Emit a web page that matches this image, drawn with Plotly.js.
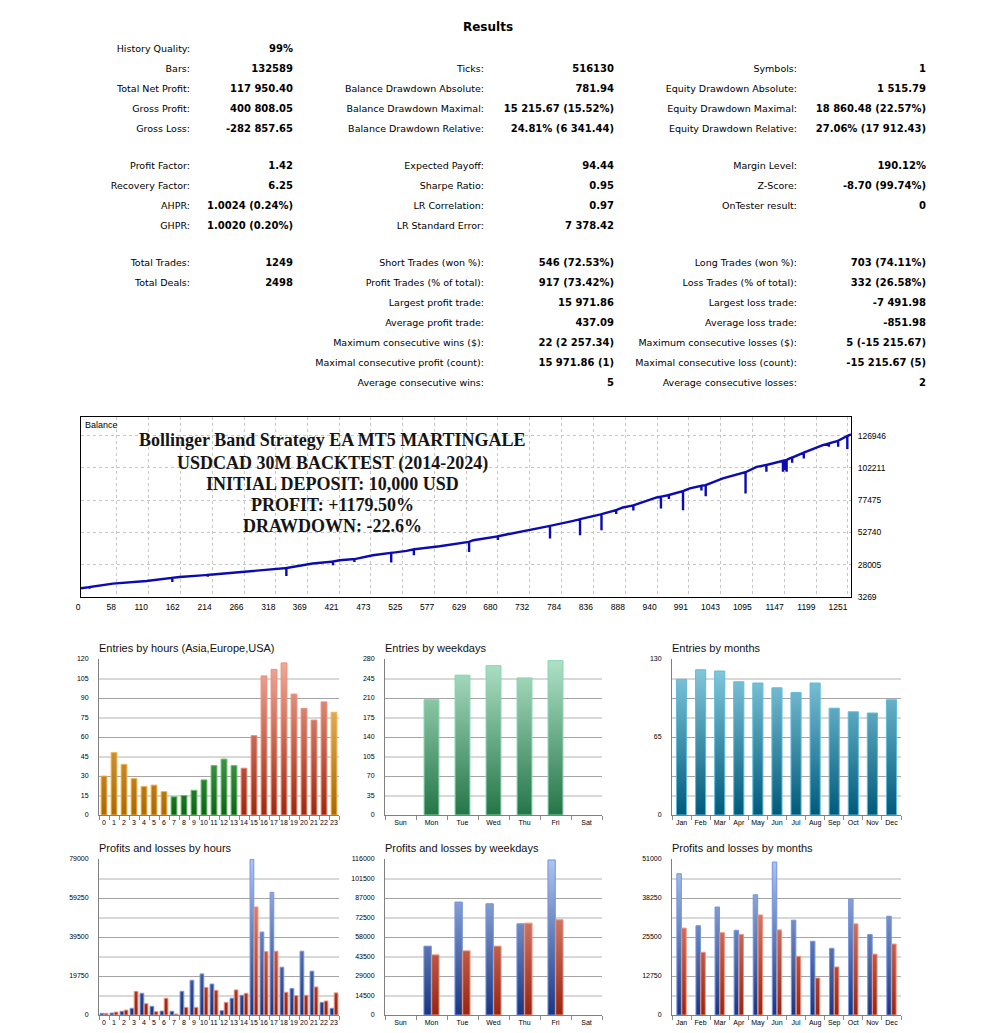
<!DOCTYPE html>
<html><head><meta charset="utf-8">
<script src="https://cdn.plot.ly/plotly-3.0.1.min.js"></script>
<style>
html,body{margin:0;padding:0;background:#fff;width:985px;height:1033px;overflow:hidden;}
#stage{position:relative;width:985px;height:1033px;}
.lbl,.val,.ttl{position:absolute;white-space:nowrap;text-align:right;line-height:14px;height:14px;color:#000;}
.lbl{font-family:"DejaVu Sans",sans-serif;font-size:9.5px;}
.val{font-family:"DejaVu Sans",sans-serif;font-weight:bold;font-size:10px;}
.ttl{font-family:"DejaVu Sans",sans-serif;font-weight:bold;font-size:12px;text-align:center;width:120px;}
.chart{position:absolute;}
</style></head>
<body><div id="stage"></div>
<script>
// ---------------- DATA ----------------
const reportTitle = 'Results';
const col1Labels = ['History Quality:','Bars:','Total Net Profit:','Gross Profit:','Gross Loss:','Profit Factor:','Recovery Factor:','AHPR:','GHPR:','Total Trades:','Total Deals:',null,null,null,null,null];
const col1Values = ['99%','132589','117 950.40','400 808.05','-282 857.65','1.42','6.25','1.0024 (0.24%)','1.0020 (0.20%)','1249','2498',null,null,null,null,null];
const col2Labels = [null,'Ticks:','Balance Drawdown Absolute:','Balance Drawdown Maximal:','Balance Drawdown Relative:','Expected Payoff:','Sharpe Ratio:','LR Correlation:','LR Standard Error:','Short Trades (won %):','Profit Trades (% of total):','Largest profit trade:','Average profit trade:','Maximum consecutive wins ($):','Maximal consecutive profit (count):','Average consecutive wins:'];
const col2Values = [null,'516130','781.94','15 215.67 (15.52%)','24.81% (6 341.44)','94.44','0.95','0.97','7 378.42','546 (72.53%)','917 (73.42%)','15 971.86','437.09','22 (2 257.34)','15 971.86 (1)','5'];
const col3Labels = [null,'Symbols:','Equity Drawdown Absolute:','Equity Drawdown Maximal:','Equity Drawdown Relative:','Margin Level:','Z-Score:','OnTester result:',null,'Long Trades (won %):','Loss Trades (% of total):','Largest loss trade:','Average loss trade:','Maximum consecutive losses ($):','Maximal consecutive loss (count):','Average consecutive losses:'];
const col3Values = [null,'1','1 515.79','18 860.48 (22.57%)','27.06% (17 912.43)','190.12%','-8.70 (99.74%)','0',null,'703 (74.11%)','332 (26.58%)','-7 491.98','-851.98','5 (-15 215.67)','-15 215.67 (5)','2'];

const balanceTrades = [0, 14,14,14, 52, 107, 149,149,149, 161, 207,207,207, 215, 270, 324, 335,335,335, 378, 411,411,411, 422, 446,446,446, 476, 506,506,506, 531, 543,543,543, 585, 633,633,633, 640, 680,680,680, 694, 748, 765,765,765, 803, 814,814,814, 830, 843, 849,849,849, 873,873,873, 884, 901,901,901, 939, 946,946,946, 959,959,959, 982,982,982, 993, 1012,1012,1012, 1019,1019,1019, 1047, 1084,1084,1084, 1102, 1118,1118,1118, 1145,1145,1145, 1148,1148,1148, 1151,1151,1151, 1156, 1160,1160,1160, 1179,1179,1179, 1210, 1220,1220,1220, 1235,1235,1235, 1250,1250,1250, 1256];
const balanceValues = [10000, 10900,9600,10900, 13560, 15560, 17900,14790,17900, 18630, 20200,18800,20200, 20470, 23000, 25080, 25540,19400,25540, 28920, 30450,27600,30450, 31450, 32300,30150,32300, 35300, 37060,29700,37060, 38600, 39900,35300,39900, 42200, 45500,37830,45500, 46800, 49800,47000,49800, 51190, 55800, 57800,48100,57800, 61640, 62950,50650,62950, 64700, 66020, 66800,54490,66800, 69900,67000,69900, 71930, 73500,69600,73500, 79600, 80200,71160,80200, 81500,78400,81500, 84450,69860,84450, 86520, 88500,85000,88500, 89100,80600,89100, 94200, 99000,82680,99000, 103100, 104500,99270,104500, 107700,99270,107700, 108000,100500,108000, 108300,99300,108300, 109500, 110200,106200,110200, 114000,109560,114000, 119770, 121000,118500,121000, 123080,118470,123080, 126700,116700,126700, 127950];
const balanceYTicks = [3269, 28005, 52740, 77475, 102211, 126946];
const balanceXTicks = [0,58,110,162,214,266,318,369,421,473,525,577,629,680,732,784,836,888,940,991,1043,1095,1147,1199,1251];
const overlayLines = ['Bollinger Band Strategy EA MT5 MARTINGALE','USDCAD 30M BACKTEST (2014-2024)','INITIAL DEPOSIT: 10,000 USD','PROFIT: +1179.50%','DRAWDOWN: -22.6%'];

const hours = ['0','1','2','3','4','5','6','7','8','9','10','11','12','13','14','15','16','17','18','19','20','21','22','23'];
const hourSession = ['Asia','Asia','Asia','Asia','Asia','Asia','Asia','Europe','Europe','Europe','Europe','Europe','Europe','Europe','USA','USA','USA','USA','USA','USA','USA','USA','USA','Asia'];
const hourEntries = [30,48,39,28,22,23,18,14,15,19,27,38,43,38,36,61,107,112,117,93,82,73,87,79];
const weekdays = ['Sun','Mon','Tue','Wed','Thu','Fri','Sat'];
const weekdayEntries = [null,207,251,268,246,277,null];
const months = ['Jan','Feb','Mar','Apr','May','Jun','Jul','Aug','Sep','Oct','Nov','Dec'];
const monthEntries = [113,121,120,111,110,106,102,110,89,86,85,96];
const hourProfits = [850,1000,1900,3400,11000,4400,2000,1900,12000,17600,20800,15700,2200,8500,10000,78800,42000,62100,24200,13400,32300,22200,6400,3400];
const hourLosses = [850,1500,2500,12000,5750,1700,8500,500,3900,3900,14000,12500,6400,12700,11000,54700,32100,32300,11500,9800,10000,14200,7100,11200];
const weekdayProfits = [null,51200,84000,82700,67800,115300,null];
const weekdayLosses = [null,44700,47700,51200,68300,70800,null];
const monthProfits = [46200,29200,35300,27700,39300,50000,31000,24100,21800,37900,26300,32300];
const monthLosses = [28400,20500,26900,26300,32700,27800,19200,12100,15700,29800,19900,23200];

// ---------------- STYLES / LAYOUT ----------------
const statRowY = [49,69,89,109,129,166,186,206,226,263,283,303,323,343,363,383];
const statCols = [{lab:col1Labels,val:col1Values,labR:190,valR:293},{lab:col2Labels,val:col2Values,labR:484,valR:614},{lab:col3Labels,val:col3Values,labR:797,valR:926}];
const SANS = 'Liberation Sans, Arial, sans-serif';
const gradStyles = {
  Asia:{top:'#f8cc80',bottom:'#ad6800',line:'#f2b550'},
  Europe:{top:'#a4e2a4',bottom:'#0c6418',line:'#62bf62'},
  USA:{top:'#f2ac9c',bottom:'#9e2810',line:'#ea8c78'},
  week:{top:'#b0e2c8',bottom:'#257548',line:'#84d4ac'},
  month:{top:'#8ccfe2',bottom:'#005a7a',line:'#5cbcdc'},
  profit:{top:'#aec6f2',bottom:'#1a3580',line:'#7595e0'},
  loss:{top:'#f2a898',bottom:'#982410',line:'#ee9480'}
};

const stage = document.getElementById('stage');
// Stats text
(function(){
  const t = document.createElement('div'); t.className='ttl'; t.textContent=reportTitle;
  t.style.left=(488-60)+'px'; t.style.top=(27-7)+'px'; stage.appendChild(t);
  statCols.forEach(c=>{
    statRowY.forEach((y,i)=>{
      if(c.lab[i]){const d=document.createElement('div');d.className='lbl';d.textContent=c.lab[i];d.style.right=(985-c.labR)+'px';d.style.top=(y-7)+'px';stage.appendChild(d);}
      if(c.val[i]){const d=document.createElement('div');d.className='val';d.textContent=c.val[i];d.style.right=(985-c.valR)+'px';d.style.top=(y-7)+'px';stage.appendChild(d);}
    });
  });
})();

function makeDiv(id, box){
  const d=document.createElement('div'); d.id=id; d.className='chart';
  d.style.left=box.left+'px'; d.style.top=box.top+'px'; d.style.width=box.w+'px'; d.style.height=box.h+'px';
  stage.appendChild(d); return d;
}
const cfg = {staticPlot:true, displayModeBar:false};

// Balance chart
(function(){
  const box={left:0,top:405,w:985,h:215,l:81,r:134,t:12,b:23};
  const d=makeDiv('balance',box);
  const plotW = box.w-box.l-box.r, plotH = box.h-box.t-box.b;
  const lineY = [440,463,484,505,526];
  const anns = overlayLines.map((s,i)=>({text:'<b>'+s+'</b>', xref:'paper', yref:'paper', x:(332.5-81)/plotW, y:(box.h-box.b - (lineY[i]-box.top))/plotH, xanchor:'center', yanchor:'middle', showarrow:false, font:{family:'Liberation Serif, Times New Roman, serif', size:18, color:'#151515'}}));
  anns.push({text:'Balance', xref:'paper', yref:'paper', x:0, y:1, xanchor:'left', yanchor:'top', xshift:2, yshift:-1, showarrow:false, font:{family:SANS, size:9, color:'#000'}});
  Plotly.newPlot(d,[{type:'scatter', mode:'lines', x:balanceTrades, y:balanceValues, line:{color:'#0b0bb2', width:2.4}, hoverinfo:'skip'}],{
    width:box.w, height:box.h, margin:{l:box.l,r:box.r,t:box.t,b:box.b},
    paper_bgcolor:'rgba(0,0,0,0)', plot_bgcolor:'#fff', showlegend:false,
    xaxis:{range:[0,1256], tickmode:'array', tickvals:balanceXTicks, ticktext:balanceXTicks.map(String), ticklabelposition:'outside left', showgrid:true, gridcolor:'#c6c6c6', griddash:'3px,3px', gridwidth:1, showline:true, mirror:true, linecolor:'#000', linewidth:1, ticks:'', zeroline:false, tickangle:0, tickfont:{family:SANS,size:8.5,color:'#000'}, ticklabelstandoff:2},
    yaxis:{range:[3269,141300], side:'right', tickmode:'array', tickvals:balanceYTicks, ticktext:balanceYTicks.map(String), showgrid:true, gridcolor:'#c6c6c6', griddash:'3px,3px', gridwidth:1, showline:true, mirror:true, linecolor:'#000', linewidth:1, ticks:'', zeroline:false, tickfont:{family:SANS,size:8.5,color:'#000'}, ticklabelstandoff:4},
    annotations:anns
  },cfg);
})();

function applyGradients(gd, keyFor){
  const h = gd._fullLayout.yaxis._length;
  const defs = gd.querySelector('defs');
  const NS='http://www.w3.org/2000/svg';
  const made={};
  function gid(key){
    const id=gd.id+'-g-'+key;
    if(!made[key]){
      const st=gradStyles[key];
      const lg=document.createElementNS(NS,'linearGradient');
      lg.setAttribute('id',id); lg.setAttribute('gradientUnits','userSpaceOnUse');
      lg.setAttribute('x1','0'); lg.setAttribute('y1','0'); lg.setAttribute('x2','0'); lg.setAttribute('y2',String(h));
      [[0,st.top],[1,st.bottom]].forEach(([o,c])=>{const s=document.createElementNS(NS,'stop');s.setAttribute('offset',String(o));s.setAttribute('stop-color',c);lg.appendChild(s);});
      defs.appendChild(lg); made[key]=true;
    }
    return id;
  }
  gd.querySelectorAll('.barlayer .trace.bars').forEach((tr,ti)=>{
    const tIdx = (tr.__data__ && tr.__data__[0] && tr.__data__[0].trace) ? tr.__data__[0].trace.index : ti;
    tr.querySelectorAll('.point').forEach((pt,pi)=>{
      const idx = (pt.__data__ && pt.__data__.i!=null) ? pt.__data__.i : pi;
      const p = pt.querySelector('path'); if(!p) return;
      p.style.fill='url(#'+gid(keyFor(tIdx,idx))+')';
    });
  });
}

function smallChart(id, box, title, cats, series, yMax, labelStep, gridStep, bargap, groupgap, keyFor){
  const d=makeDiv(id,box);
  const n = Math.round(yMax/gridStep);
  const light=[], dark=[];
  for(let k=1;k<=n;k++){ ((n-k)%2===0 ? dark : light).push(k*gridStep); }
  const traces = series.map((s,i)=>({type:'bar', x:cats, y:s.values, marker:{color:s.colors.map(k=>gradStyles[k].bottom), line:{color:s.colors.map(k=>gradStyles[k].line), width:1}}, hoverinfo:'skip'}));
  traces.push({type:'scatter', x:[], y:[], yaxis:'y2', hoverinfo:'skip'});
  traces.push({type:'scatter', x:[], y:[], yaxis:'y3', hoverinfo:'skip'});
  const ov = {overlaying:'y', range:[0,yMax], tickmode:'array', showticklabels:false, showline:false, zeroline:false, ticks:'', showgrid:true};
  Plotly.newPlot(d,traces,{
    width:box.w, height:box.h, margin:{l:box.l,r:box.r,t:box.t,b:box.b},
    paper_bgcolor:'rgba(0,0,0,0)', plot_bgcolor:'rgba(0,0,0,0)', showlegend:false,
    barmode:'group', bargap:bargap, bargroupgap:groupgap,
    xaxis:{type:'category', categoryorder:'array', categoryarray:cats, showline:true, linecolor:'#808080', linewidth:1, ticks:'outside', tickson:'boundaries', ticklen:4, tickcolor:'#8a8a8a', showgrid:false, zeroline:false, tickangle:0, tickfont:{family:SANS,size:7,color:'#000'}, ticklabelstandoff:1},
    yaxis:{range:[0,yMax], tickmode:'linear', tick0:0, dtick:labelStep, tickformat:'d', exponentformat:'none', separatethousands:false, showgrid:false, showline:true, linecolor:'#808080', linewidth:1, ticks:'', zeroline:false, tickfont:{family:SANS,size:7,color:'#000'}, ticklabelstandoff:8},
    yaxis2:Object.assign({}, ov, {tickvals:light, gridcolor:'#d8d8d8', gridwidth:2}),
    yaxis3:Object.assign({}, ov, {tickvals:dark, gridcolor:'#a4a4a4', gridwidth:1}),
    annotations:[{text:title, xref:'paper', yref:'paper', x:0, y:1, xanchor:'left', yanchor:'middle', xshift:-2, yshift:11, showarrow:false, font:{family:SANS, size:11, color:'#111'}}]
  },cfg).then(gd=>applyGradients(gd,keyFor));
}

const rowTop = {top:630,h:205,t:29,b:20}, rowBot = {top:830,h:203,t:29,b:18};
const colH = {left:0,w:350,l:99,r:11}, colW = {left:340,w:280,l:45,r:18}, colM = {left:625,w:300,l:47,r:24};
const box = (c,r)=>Object.assign({},c,r);

smallChart('eh', box(colH,rowTop), 'Entries by hours (Asia,Europe,USA)', hours,
  [{values:hourEntries, colors:hourSession}], 120, 15, 15, 0.42, 0, (t,i)=>hourSession[i]);
smallChart('ew', box(colW,rowTop), 'Entries by weekdays', weekdays,
  [{values:weekdayEntries, colors:weekdays.map(()=> 'week')}], 280, 35, 35, 0.52, 0, ()=> 'week');
smallChart('em', box(colM,rowTop), 'Entries by months', months,
  [{values:monthEntries, colors:months.map(()=> 'month')}], 130, 65, 16.25, 0.47, 0, ()=> 'month');
smallChart('ph', box(colH,rowBot), 'Profits and losses by hours', hours,
  [{values:hourProfits, colors:hours.map(()=> 'profit')},{values:hourLosses, colors:hours.map(()=> 'loss')}], 79000, 19750, 9875, 0.17, 0.1, (t)=> t===0?'profit':'loss');
smallChart('pw', box(colW,rowBot), 'Profits and losses by weekdays', weekdays,
  [{values:weekdayProfits, colors:weekdays.map(()=> 'profit')},{values:weekdayLosses, colors:weekdays.map(()=> 'loss')}], 116000, 14500, 14500, 0.5, 0.05, (t)=> t===0?'profit':'loss');
smallChart('pm', box(colM,rowBot), 'Profits and losses by months', months,
  [{values:monthProfits, colors:months.map(()=> 'profit')},{values:monthLosses, colors:months.map(()=> 'loss')}], 51000, 12750, 6375, 0.49, 0.08, (t)=> t===0?'profit':'loss');
</script>
</body></html>
